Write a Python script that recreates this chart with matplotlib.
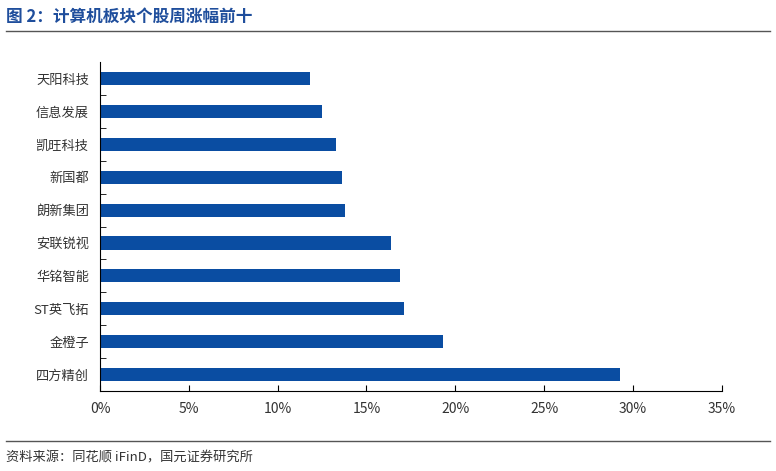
import matplotlib.pyplot as plt
from matplotlib.ticker import FixedLocator

plt.rcParams['font.family'] = ['Noto Sans CJK SC', 'DejaVu Sans']

names = ['四方精创', '金橙子', 'ST英飞拓', '华铭智能', '安联锐视',
         '朗新集团', '新国都', '凯旺科技', '信息发展', '天阳科技']
values = [29.3, 19.3, 17.1, 16.9, 16.4, 13.8, 13.6, 13.3, 12.5, 11.8]
xticks = [0, 5, 10, 15, 20, 25, 30, 35]

fig = plt.figure(figsize=(7.76, 4.71), dpi=100)
ax = fig.add_axes([0.129, 0.170, 0.801, 0.698])

pos = list(range(len(names)))
ax.barh(pos, values, height=0.4, color='#0a4da2')
ax.set_xlim(0, 35)
ax.set_ylim(-0.5, len(names) - 0.5)
ax.set_xticks(xticks)
ax.set_xticklabels(['%d%%' % t for t in xticks], fontsize=10, color='#333333')
ax.set_yticks(pos)
ax.set_yticklabels(names, fontsize=9.5, color='#333333')
ax.tick_params(axis='y', length=0, pad=8)
ax.tick_params(axis='x', direction='in', length=4, pad=8)
ax.yaxis.set_minor_locator(FixedLocator([p + 0.5 for p in pos[:-1]]))
ax.tick_params(axis='y', which='minor', direction='in', length=4)
for s in ['top', 'right']:
    ax.spines[s].set_visible(False)
for s in ['left', 'bottom']:
    ax.spines[s].set_color('black')

fig.text(0.008, 0.965, '图 2：计算机板块个股周涨幅前十', fontsize=12, fontweight='bold',
         color='#1f4e9c', va='center')
fig.add_artist(plt.Line2D([0.008, 0.992], [0.935, 0.935], color='#555555', lw=1))
fig.add_artist(plt.Line2D([0.008, 0.992], [0.063, 0.063], color='#555555', lw=1))
fig.text(0.008, 0.028, '资料来源：同花顺 iFinD，国元证券研究所', fontsize=9.5,
         color='#333333', va='center')

plt.savefig('out.png', dpi=100)
